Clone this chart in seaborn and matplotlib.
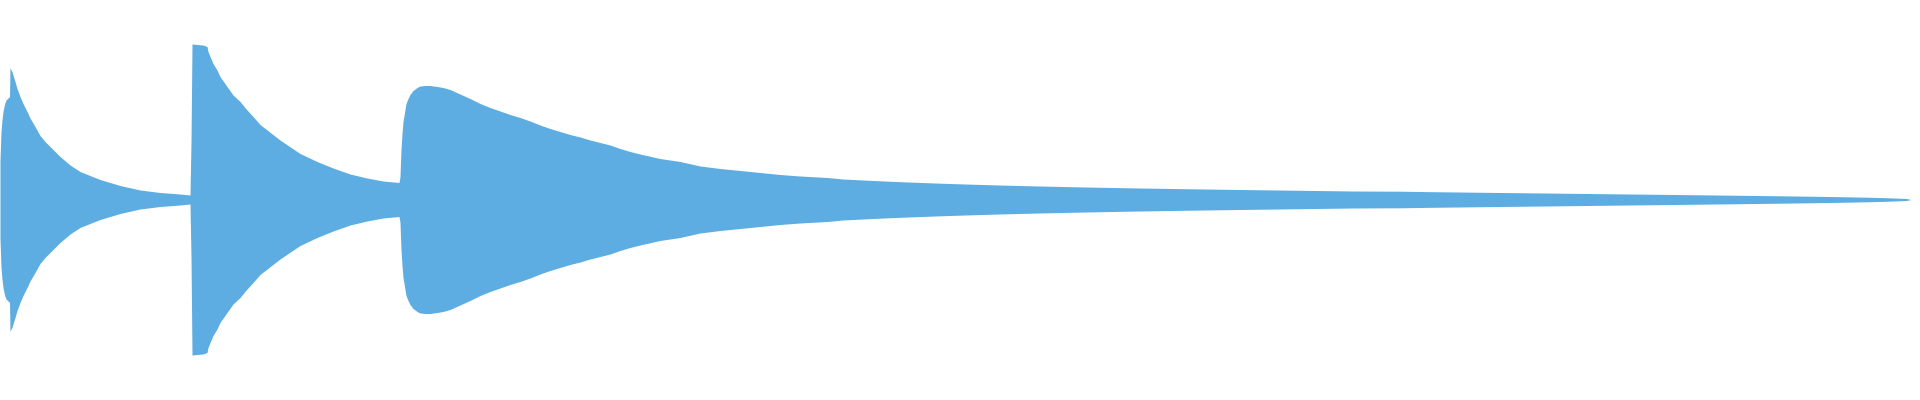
import matplotlib as mpl
import numpy as np
import pandas as pd
mpl.use("Agg")
import matplotlib.pyplot as plt
import seaborn as sns

# positions along the stream and half thickness
pos = [0, 1, 2, 3, 4, 5, 6, 8, 9.5,
       10, 12, 13, 15, 17, 20, 23, 27, 30, 35, 40, 45, 50, 55, 60, 70, 80,
       100, 120, 140, 160, 180, 190,
       191, 192, 203, 207, 208, 210, 213, 217, 220, 227, 233, 240, 247, 253,
       260, 280, 300, 317, 333, 350, 367, 383, 399,
       400, 401, 402, 403, 404, 405, 406, 408, 410, 413, 417, 420, 425, 430,
       437, 443, 450, 460, 470, 480, 490, 500, 510, 520, 530, 540, 550, 560,
       570, 580, 590, 600, 610, 620, 630, 640, 660, 680, 700, 720, 740, 760,
       780, 800, 827, 843, 863, 884, 908, 935, 965, 999, 1039, 1085, 1140,
       1204, 1277, 1353, 1400, 1433, 1475, 1518, 1561, 1604, 1647, 1691,
       1733, 1773, 1809, 1841, 1867, 1886, 1899, 1906, 1910]
half = [39, 68, 80, 88, 93, 97, 99.5, 101.5, 103,
        131.5, 128, 124.5, 118, 111, 103, 96, 88, 81.5, 73, 64, 58, 53, 48, 43, 34.5, 28,
        20, 14, 9.5, 7, 5.5, 4.5,
        57, 155.5, 154.5, 153, 148, 143, 136, 129.5, 123, 113, 104.5, 98, 89.5, 83,
        75, 59.5, 46, 38, 31.5, 25.5, 21.5, 18.5, 17,
        23, 50, 66, 78, 84, 90, 96, 101, 105, 109, 112, 113.5, 114, 114,
        113, 112, 110, 105.5, 101, 96, 92, 88.5, 85, 82, 78.5, 74.5, 71, 68,
        65, 62.5, 59.5, 57, 54.5, 51, 48, 45.5, 41, 38, 33.5, 31, 29, 27,
        25, 23.5, 22, 20.5, 19.5, 18.5, 17.5, 16.5, 15.5, 14.5, 13.5, 12.5, 11.5,
        10.5, 9.5, 8.5, 8.3, 7.8, 7.3, 6.8, 6.3, 5.8, 5.3, 4.8,
        4.3, 3.8, 3.3, 2.8, 2.3, 1.8, 1.3, 1.0, 0.3]

df = pd.DataFrame({"pos": pos, "half": half})
df["top"] = df["half"]
df["bottom"] = -df["half"]

sns.set_theme(style="white")
fig = plt.figure(figsize=(19.2, 4), dpi=100)
ax = fig.add_axes([0, 0, 1, 1])

# symmetric silhouette around the centre line
ax.fill_between(df["pos"], df["bottom"], df["top"], color="#5dade2",
                linewidth=0, antialiased=True)

ax.set_xlim(0, 1920)
ax.set_ylim(-200.5, 199.5)
ax.axis("off")
sns.despine(ax=ax, left=True, bottom=True)

plt.savefig("out.png", dpi=100, facecolor="white")
